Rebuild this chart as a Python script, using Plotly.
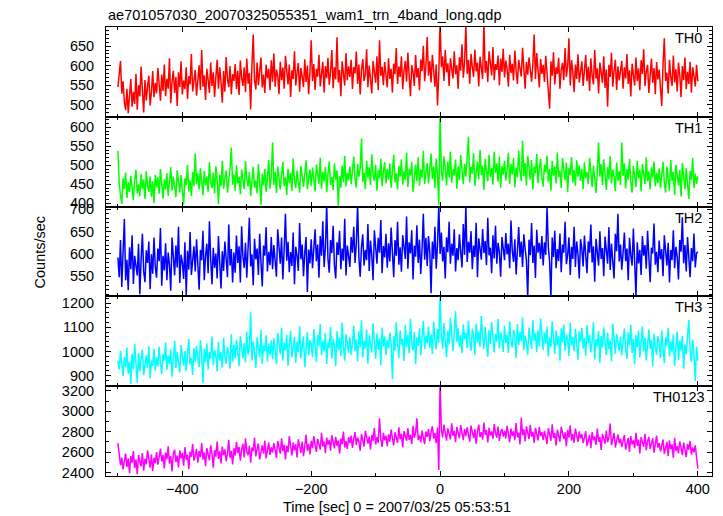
import plotly.graph_objects as go

# ---- data ----
TIME_START = -500   # sec, first bin
TIME_STEP = 2       # sec per bin

TH0 = [
    545, 590, 612, 528, 560, 507, 486, 541, 478, 522, 566, 495, 533, 502, 579, 487, 550, 521, 598, 536, 480, 563, 511, 547, 574, 498, 532, 586, 519, 556,
    529, 594, 548, 510, 577, 535, 603, 522, 566, 541, 619, 504, 558, 587, 530, 571, 497, 583, 545, 611, 526, 562, 540, 596, 515, 573, 552, 630, 534, 568,
    589, 523, 557, 601, 538, 640, 546, 575, 512, 592, 563, 530, 608, 548, 583, 520, 570, 615, 541, 596, 557, 505, 586, 533, 622, 566, 545, 599, 526, 578,
    561, 604, 540, 587, 525, 613, 569, 548, 596, 532, 618, 554, 581, 488, 597, 680, 563, 539, 608, 550, 586, 621, 544, 577, 530, 603, 568, 592, 537, 614,
    559, 631, 546, 590, 574, 527, 610, 563, 595, 541, 625, 579, 552, 603, 520, 588, 566, 637, 549, 582, 607, 533, 594, 571, 545, 616, 558, 600, 527, 584,
    665, 560, 604, 538, 592, 572, 628, 547, 587, 610, 531, 599, 568, 620, 551, 583, 640, 542, 596, 565, 673, 557, 589, 522, 611, 576, 549, 632, 563, 598,
    571, 615, 540, 596, 580, 636, 553, 603, 526, 589, 617, 561, 577, 642, 545, 600, 568, 529, 612, 585, 556, 624, 538, 665, 574, 597, 550, 609, 582, 544,
    619, 566, 592, 531, 605, 578, 645, 553, 598, 571, 624, 540, 587, 612, 559, 633, 575, 522, 601, 583, 548, 627, 569, 594, 537, 616, 586, 651, 560, 597,
    673, 574, 612, 557, 628, 589, 546, 603, 498, 580, 715, 596, 624, 561, 640, 583, 606, 548, 619, 592, 567, 637, 578, 601, 541, 622, 587, 655, 569, 608,
    706, 579, 615, 554, 630, 596, 571, 641, 585, 608, 547, 623, 590, 566, 709, 582, 612, 558, 637, 600, 575, 648, 563, 604, 589, 626, 550, 618, 584, 643,
    570, 613, 592, 546, 628, 581, 605, 562, 639, 587, 553, 615, 598, 572, 646, 584, 541, 609, 577, 621, 593, 559, 603, 680, 566, 632, 588, 544, 617, 579,
    602, 558, 625, 583, 547, 490, 611, 574, 634, 552, 596, 579, 620, 541, 588, 607, 563, 645, 571, 598, 670, 549, 614, 585, 532, 603, 566, 629, 557, 590,
    611, 548, 586, 627, 560, 597, 535, 619, 574, 552, 640, 567, 593, 529, 608, 581, 556, 624, 543, 590, 495, 602, 571, 633, 546, 587, 615, 538, 598, 562,
    584, 612, 541, 596, 567, 630, 553, 588, 521, 605, 576, 549, 621, 560, 593, 537, 614, 579, 642, 548, 585, 602, 530, 571, 618, 556, 594, 527, 609, 565,
    590, 544, 497, 603, 670, 561, 582, 529, 615, 570, 548, 626, 557, 591, 534, 608, 576, 519, 599, 563, 621, 540, 584, 553, 610, 531, 596, 574, 547, 602,
    560,
]

TH1 = [
    538, 452, 421, 398, 466, 437, 481, 414, 455, 429, 472, 443, 408, 461, 488, 426, 450, 419, 477, 438, 463, 411, 484, 446, 430, 470, 417, 458, 400, 475,
    441, 468, 425, 490, 447, 412, 463, 436, 479, 420, 458, 495, 433, 470, 444, 416, 487, 452, 428, 474, 439, 396, 466, 448, 501, 431, 460, 419, 482, 445,
    532, 450, 478, 436, 493, 459, 421, 485, 447, 470, 430, 508, 455, 440, 481, 426, 497, 462, 398, 474, 445, 512, 438, 467, 486, 428, 458, 491, 547, 449,
    476, 433, 500, 452, 469, 424, 489, 458, 437, 511, 463, 444, 482, 419, 473, 496, 441, 460, 426, 503, 455, 395, 478, 447, 490, 430, 466, 514, 438, 471,
    560, 448, 483, 427, 497, 459, 436, 474, 509, 445, 468, 422, 491, 453, 480, 432, 518, 461, 440, 486, 450, 428, 499, 466, 443, 477, 513, 437, 462, 489,
    446, 494, 465, 431, 502, 474, 451, 520, 438, 483, 457, 496, 429, 478, 510, 448, 469, 435, 505, 462, 487, 392, 472, 441, 499, 455, 525, 444, 480, 460,
    497, 450, 486, 523, 463, 441, 504, 470, 492, 571, 456, 481, 437, 512, 468, 495, 448, 529, 474, 459, 501, 433, 487, 466, 517, 445, 483, 508, 452, 490,
    462, 505, 441, 487, 528, 455, 479, 436, 498, 470, 516, 449, 484, 462, 534, 443, 491, 473, 509, 430, 477, 502, 458, 521, 446, 489, 467, 538, 451, 485,
    506, 452, 488, 531, 464, 497, 440, 518, 475, 395, 640, 482, 459, 524, 493, 447, 510, 468, 536, 454, 489, 473, 515, 438, 497, 461, 527, 483, 450, 504,
    470, 521, 575, 455, 496, 478, 532, 446, 487, 510, 463, 541, 474, 499, 435, 517, 484, 458, 528, 469, 492, 449, 536, 480, 505, 457, 523, 441, 498, 476,
    512, 460, 489, 533, 451, 503, 476, 519, 442, 494, 468, 539, 483, 458, 565, 471, 506, 447, 525, 488, 462, 514, 436, 497, 479, 530, 453, 491, 517, 466,
    444, 502, 481, 526, 457, 490, 433, 511, 473, 497, 452, 534, 468, 486, 440, 519, 479, 461, 507, 429, 493, 475, 522, 455, 488, 446, 513, 470, 500, 459,
    491, 437, 508, 466, 482, 451, 520, 474, 443, 499, 462, 427, 486, 560, 470, 503, 448, 516, 477, 435, 495, 463, 524, 452, 489, 471, 432, 507, 459, 485,
    448, 560, 472, 505, 439, 490, 462, 517, 455, 428, 498, 476, 443, 512, 466, 487, 431, 503, 470, 451, 521, 458, 484, 436, 495, 467, 510, 445, 480, 453,
    492, 440, 476, 509, 455, 428, 497, 468, 433, 514, 459, 482, 422, 501, 464, 446, 488, 418, 506, 472, 437, 493, 456, 411, 485, 462, 520, 440, 478, 451,
    470,
]

TH2 = [
    592, 548, 631, 526, 604, 678, 541, 587, 519, 615, 566, 642, 533, 596, 574, 552, 623, 510, 589, 645, 561, 537, 608, 580, 628, 521, 599, 556, 637, 571,
    547, 612, 584, 658, 529, 596, 563, 624, 541, 603, 575, 518, 637, 590, 552, 619, 570, 661, 535, 598, 581, 544, 626, 508, 607, 565, 649, 553, 590, 617,
    561, 633, 578, 520, 609, 586, 652, 541, 596, 623, 557, 673, 588, 532, 614, 569, 601, 545, 640, 579, 523, 606, 562, 628, 590, 548, 666, 574, 611, 536,
    603, 558, 641, 580, 617, 536, 662, 594, 569, 625, 547, 608, 681, 572, 599, 530, 634, 588, 612, 553, 645, 583, 527, 619, 596, 660, 561, 605, 575, 638,
    566, 620, 592, 549, 655, 601, 578, 637, 543, 611, 690, 585, 627, 559, 604, 573, 648, 532, 616, 596, 562, 669, 588, 621, 550, 603, 638, 515, 610, 579,
    633, 568, 609, 655, 584, 621, 547, 640, 596, 673, 571, 614, 712, 589, 558, 631, 602, 663, 575, 545, 626, 598, 652, 566, 612, 585, 679, 552, 619, 595,
    571, 638, 603, 661, 580, 624, 710, 592, 549, 616, 644, 574, 609, 586, 667, 562, 630, 597, 541, 653, 611, 578, 636, 603, 676, 557, 618, 592, 645, 569,
    624, 583, 659, 605, 548, 631, 596, 672, 576, 615, 560, 642, 609, 589, 684, 567, 626, 601, 653, 543, 619, 594, 664, 580, 632, 555, 611, 690, 587, 636,
    573, 640, 605, 512, 628, 589, 661, 567, 622, 710, 600, 648, 583, 616, 545, 637, 604, 672, 578, 623, 596, 655, 561, 613, 586, 644, 604, 570, 667, 598,
    708, 582, 627, 603, 651, 566, 619, 593, 670, 548, 635, 611, 587, 656, 602, 629, 575, 681, 597, 614, 557, 642, 590, 663, 578, 625, 604, 549, 638, 612,
    586, 647, 599, 623, 568, 675, 607, 582, 633, 554, 616, 660, 593, 628, 571, 644, 611, 586, 500, 632, 597, 669, 580, 619, 546, 654, 603, 625, 589, 640,
    574, 626, 598, 705, 615, 582, 502, 637, 593, 652, 568, 611, 584, 646, 559, 621, 603, 672, 577, 598, 637, 553, 616, 589, 661, 571, 628, 600, 545, 633,
    612, 572, 641, 595, 557, 628, 603, 666, 581, 617, 538, 634, 597, 574, 651, 589, 613, 550, 639, 602, 578, 660, 564, 623, 591, 545, 645, 606, 690, 583,
    621, 565, 603, 648, 584, 612, 541, 636, 597, 574, 657, 590, 505, 626, 579, 609, 553, 640, 596, 620, 567, 652, 583, 537, 614, 601, 668, 576, 605, 559,
    630, 588, 611, 550, 642, 597, 574, 625, 536, 609, 586, 653, 568, 616, 594, 543, 631, 605, 682, 579, 620, 561, 638, 592, 548, 613, 584, 646, 570, 602,
    605,
]

TH3 = [
    962, 925, 1003, 941, 897, 978, 935, 1016, 908, 957, 865, 989, 926, 1031, 947, 870, 993, 918, 968, 1008, 902, 955, 984, 931, 1022, 889, 962, 940, 1011, 921,
    975, 938, 1019, 952, 906, 990, 961, 1037, 924, 983, 948, 1009, 895, 967, 1044, 932, 998, 956, 913, 1026, 970, 941, 1002, 919, 985, 1051, 947, 972, 903, 1014,
    958, 1023, 969, 936, 1047, 991, 868, 1012, 957, 1034, 925, 996, 971, 1062, 943, 1005, 981, 917, 1040, 962, 998, 933, 1056, 976, 949, 1018, 990, 929, 1071, 958,
    1027, 971, 1049, 994, 940, 1063, 1008, 972, 1035, 955, 1082, 987, 1016, 1162, 962, 1041, 999, 931, 1058, 1012, 976, 1090, 948, 1024, 1001, 1067, 958, 1033, 985, 1046,
    968, 1054, 1011, 947, 1077, 1020, 989, 1098, 962, 1037, 1004, 1069, 940, 1029, 1085, 976, 1013, 1060, 953, 1041, 996, 1104, 971, 1026, 1063, 935, 1008, 1079, 983, 1047,
    1031, 976, 1092, 1010, 957, 1068, 1022, 1113, 985, 1044, 1001, 1076, 948, 1037, 1015, 1101, 970, 1053, 1026, 939, 1085, 1006, 1058, 981, 1120, 1019, 962, 1072, 1034, 993,
    1061, 987, 1035, 1106, 1002, 1050, 958, 1083, 1019, 1129, 975, 1044, 1012, 1091, 949, 1067, 1028, 996, 1117, 1038, 970, 1074, 1006, 1055, 942, 1099, 1021, 1063, 984, 1047,
    1012, 1078, 1035, 885, 1064, 1003, 1121, 1040, 972, 1087, 1026, 1052, 961, 1110, 1018, 1069, 993, 1135, 1031, 1004, 1081, 947, 1058, 1024, 1096, 983, 1047, 1127, 1009, 1066,
    1033, 1102, 1015, 1071, 990, 1124, 1049, 1008, 1093, 1037, 1240, 1062, 1011, 1118, 1044, 975, 1086, 1029, 1139, 1057, 1002, 1080, 1166, 1039, 1097, 1018, 1068, 993, 1111, 1050,
    1077, 1014, 1128, 1046, 1003, 1094, 1058, 987, 1115, 1036, 1083, 1020, 1147, 1064, 1009, 1101, 1045, 978, 1089, 1031, 1122, 1055, 996, 1072, 1040, 1134, 1012, 1079, 1051, 998,
    1107, 1035, 1068, 994, 1125, 1049, 1016, 1090, 1060, 973, 1113, 1027, 1081, 1042, 1140, 1005, 1066, 1034, 985, 1098, 1053, 1010, 1129, 1045, 1074, 997, 1088, 1021, 1136, 1050,
    1006, 1079, 1031, 1102, 979, 1058, 1019, 1124, 1043, 990, 1087, 1026, 1065, 962, 1096, 1037, 1110, 1003, 1071, 1048, 981, 1119, 1024, 1060, 1001, 1093, 1035, 966, 1084, 1040,
    1097, 1012, 1055, 981, 1108, 1033, 1069, 996, 1042, 1121, 967, 1050, 1021, 1085, 952, 1064, 1016, 1100, 1037, 985, 1077, 1008, 1046, 959, 1115, 1028, 990, 1072, 1035, 1003,
    1061, 985, 1043, 1096, 1008, 970, 1079, 1026, 1110, 994, 1052, 946, 1068, 1017, 1087, 975, 1039, 1104, 1000, 1058, 963, 1030, 1091, 1011, 1048, 938, 1074, 1022, 987, 1063,
    1036, 972, 1088, 1010, 951, 1059, 1024, 1097, 979, 1041, 998, 1070, 940, 1016, 1082, 965, 1045, 1004, 1063, 928, 1029, 990, 1052, 1131, 1007, 958, 1049, 985, 878, 1020,
    962,
]

TH0123 = [
    2690, 2605, 2472, 2548, 2431, 2512, 2586, 2457, 2539, 2394, 2563, 2498, 2610, 2445, 2527, 2384, 2571, 2506, 2463, 2592, 2420, 2535, 2481, 2619, 2502, 2449, 2577, 2413, 2546, 2494,
    2601, 2478, 2552, 2635, 2509, 2573, 2440, 2596, 2531, 2658, 2487, 2561, 2412, 2589, 2624, 2503, 2566, 2451, 2617, 2540, 2593, 2468, 2649, 2527, 2575, 2433, 2604, 2555, 2682, 2518,
    2566, 2633, 2497, 2612, 2551, 2690, 2528, 2597, 2464, 2641, 2579, 2520, 2668, 2586, 2449, 2621, 2557, 2703, 2534, 2608, 2489, 2654, 2572, 2626, 2511, 2587, 2719, 2545, 2613, 2480,
    2639, 2566, 2702, 2590, 2652, 2517, 2628, 2681, 2549, 2736, 2604, 2571, 2663, 2498, 2645, 2612, 2742, 2558, 2631, 2685, 2529, 2609, 2667, 2585, 2714, 2540, 2622, 2696, 2573, 2648,
    2597, 2688, 2621, 2545, 2709, 2652, 2586, 2737, 2611, 2672, 2530, 2663, 2601, 2758, 2634, 2569, 2694, 2619, 2678, 2548, 2726, 2641, 2593, 2705, 2562, 2659, 2770, 2614, 2681, 2578,
    2712, 2640, 2758, 2669, 2603, 2731, 2685, 2626, 2789, 2657, 2704, 2590, 2743, 2672, 2721, 2614, 2766, 2693, 2638, 2751, 2661, 2715, 2585, 2734, 2679, 2802, 2646, 2709, 2632, 2747,
    2688, 2761, 2642, 2730, 2796, 2669, 2744, 2703, 2615, 2778, 2720, 2656, 2809, 2737, 2684, 2752, 2628, 2771, 2710, 2838, 2675, 2746, 2692, 2931, 2733, 2651, 2788, 2716, 2762, 2660,
    2776, 2703, 2821, 2739, 2668, 2795, 2752, 2691, 2843, 2727, 2780, 2646, 2806, 2760, 2712, 2834, 2721, 2769, 2680, 2858, 2741, 2790, 2931, 2718, 2765, 2697, 2812, 2744, 2679, 2803,
    2751, 2826, 2707, 2798, 2854, 2733, 2787, 2688, 2842, 2427, 3300, 2815, 2744, 2871, 2769, 2712, 2833, 2790, 2725, 2882, 2761, 2808, 2698, 2847, 2772, 2736, 2866, 2794, 2719, 2829,
    2757, 2843, 2776, 2704, 2861, 2792, 2738, 2825, 2683, 2809, 2870, 2748, 2796, 2722, 2889, 2771, 2816, 2695, 2838, 2763, 2804, 2731, 2876, 2786, 2743, 2851, 2710, 2799, 2827, 2752,
    2812, 2736, 2858, 2779, 2699, 2831, 2760, 2805, 2718, 2884, 2746, 2791, 2677, 2938, 2767, 2824, 2705, 2853, 2783, 2729, 2869, 2754, 2800, 2690, 2838, 2771, 2715, 2846, 2759, 2797,
    2721, 2809, 2747, 2680, 2836, 2764, 2712, 2873, 2739, 2788, 2665, 2820, 2751, 2703, 2849, 2772, 2728, 2795, 2658, 2816, 2743, 2862, 2714, 2780, 2692, 2831, 2756, 2701, 2804, 2735,
    2778, 2690, 2742, 2805, 2661, 2726, 2769, 2639, 2797, 2718, 2754, 2672, 2832, 2703, 2747, 2621, 2780, 2729, 2684, 2811, 2697, 2752, 2881, 2668, 2735, 2790, 2646, 2721, 2773, 2688,
    2732, 2651, 2709, 2768, 2625, 2694, 2741, 2603, 2758, 2677, 2715, 2640, 2790, 2662, 2724, 2588, 2747, 2696, 2653, 2779, 2617, 2706, 2749, 2632, 2688, 2737, 2596, 2673, 2762, 2645,
    2689, 2607, 2668, 2724, 2583, 2650, 2701, 2562, 2716, 2629, 2677, 2545, 2738, 2612, 2660, 2589, 2705, 2641, 2571, 2693, 2618, 2553, 2681, 2624, 2710, 2577, 2646, 2598, 2667, 2558,
    2440,
]

PANEL_NAMES = ["TH0", "TH1", "TH2", "TH3", "TH0123"]
PANEL_SERIES = [TH0, TH1, TH2, TH3, TH0123]
PANEL_COLORS = ["#ff0000", "#00ff00", "#0000ff", "#00ffff", "#ff00ff"]
PANEL_YRANGES = [[469, 699], [391, 628], [505, 706], [856, 1228], [2367, 3246]]
PANEL_YDTICK = [50, 50, 50, 100, 200]
PANEL_YMINOR = [10, 10, 10, 20, 100]

TITLE = "ae701057030_20070325055351_wam1_trn_4band_long.qdp"
XTITLE = "Time [sec] 0 = 2007/03/25 05:53:51"
YTITLE = "Counts/sec"
XRANGE = [-518.5, 422]

FONT = "Liberation Sans, Arial, Helvetica, sans-serif"
FS = 14.5

fig = go.Figure()
# the page body adds an 8px offset, so the figure is sized/margined to compensate
layout = dict(
    width=715, height=508,
    margin=dict(l=98, r=11, t=19, b=40),
    paper_bgcolor="white", plot_bgcolor="white",
    showlegend=False,
    font=dict(family=FONT, size=FS, color="black"),
)

n = len(PANEL_NAMES)
annotations = []
for k in range(n):
    idx = k + 1
    xname = "x" if idx == 1 else f"x{idx}"
    yname = "y" if idx == 1 else f"y{idx}"
    vals = PANEL_SERIES[k]
    times = [TIME_START + TIME_STEP * i for i in range(len(vals))]
    fig.add_trace(go.Scatter(
        x=times, y=vals, mode="lines",
        line=dict(color=PANEL_COLORS[k], width=1.5),
        xaxis=xname, yaxis=yname, hoverinfo="skip",
    ))
    dom = [1 - (k + 1) / n, 1 - k / n]
    xa = dict(
        range=XRANGE, anchor=yname, domain=[0, 1],
        showline=True, linecolor="black", linewidth=1, mirror="ticks",
        ticks="inside", ticklen=5, tickcolor="black", tickwidth=1,
        tick0=0, dtick=200,
        minor=dict(dtick=100, ticklen=3, ticks="inside", tickcolor="black"),
        showgrid=False, zeroline=False,
        showticklabels=(k == n - 1),
        tickfont=dict(family=FONT, size=FS, color="black"),
        ticklabelstandoff=0,
    )
    if idx > 1:
        xa["matches"] = "x"
    ya = dict(
        range=PANEL_YRANGES[k], domain=dom, anchor=xname,
        showline=True, linecolor="black", linewidth=1, mirror="ticks",
        ticks="inside", ticklen=5, tickcolor="black", tickwidth=1,
        tick0=0, dtick=PANEL_YDTICK[k],
        minor=dict(dtick=PANEL_YMINOR[k], ticklen=3, ticks="inside", tickcolor="black"),
        showgrid=False, zeroline=False,
        tickfont=dict(family=FONT, size=FS, color="black"),
        ticklabelstandoff=8,
    )
    layout["xaxis" if idx == 1 else f"xaxis{idx}"] = xa
    layout["yaxis" if idx == 1 else f"yaxis{idx}"] = ya
    annotations.append(dict(
        text=PANEL_NAMES[k], xref=f"{xname} domain", yref=f"{yname} domain",
        x=0.986 if k < n - 1 else 0.992, y=0.878, xanchor="right", yanchor="middle",
        showarrow=False, font=dict(family=FONT, size=FS, color="black"),
    ))

annotations.append(dict(
    text=YTITLE, xref="paper", yref="paper", x=-0.109, y=0.5,
    xanchor="center", yanchor="middle", textangle=-90, showarrow=False,
    font=dict(family=FONT, size=FS, color="black"),
))
annotations.append(dict(
    text=XTITLE, xref="paper", yref="paper", x=0.480, y=-0.069,
    xanchor="center", yanchor="middle", showarrow=False,
    font=dict(family=FONT, size=FS, color="black"),
))
annotations.append(dict(
    text=TITLE, xref="paper", yref="paper", x=0.0, y=1.0, yshift=12.5,
    xanchor="left", yanchor="middle", showarrow=False,
    font=dict(family=FONT, size=FS, color="black"),
))
layout["annotations"] = annotations

fig.update_layout(**layout)
fig.write_html("out.html")
